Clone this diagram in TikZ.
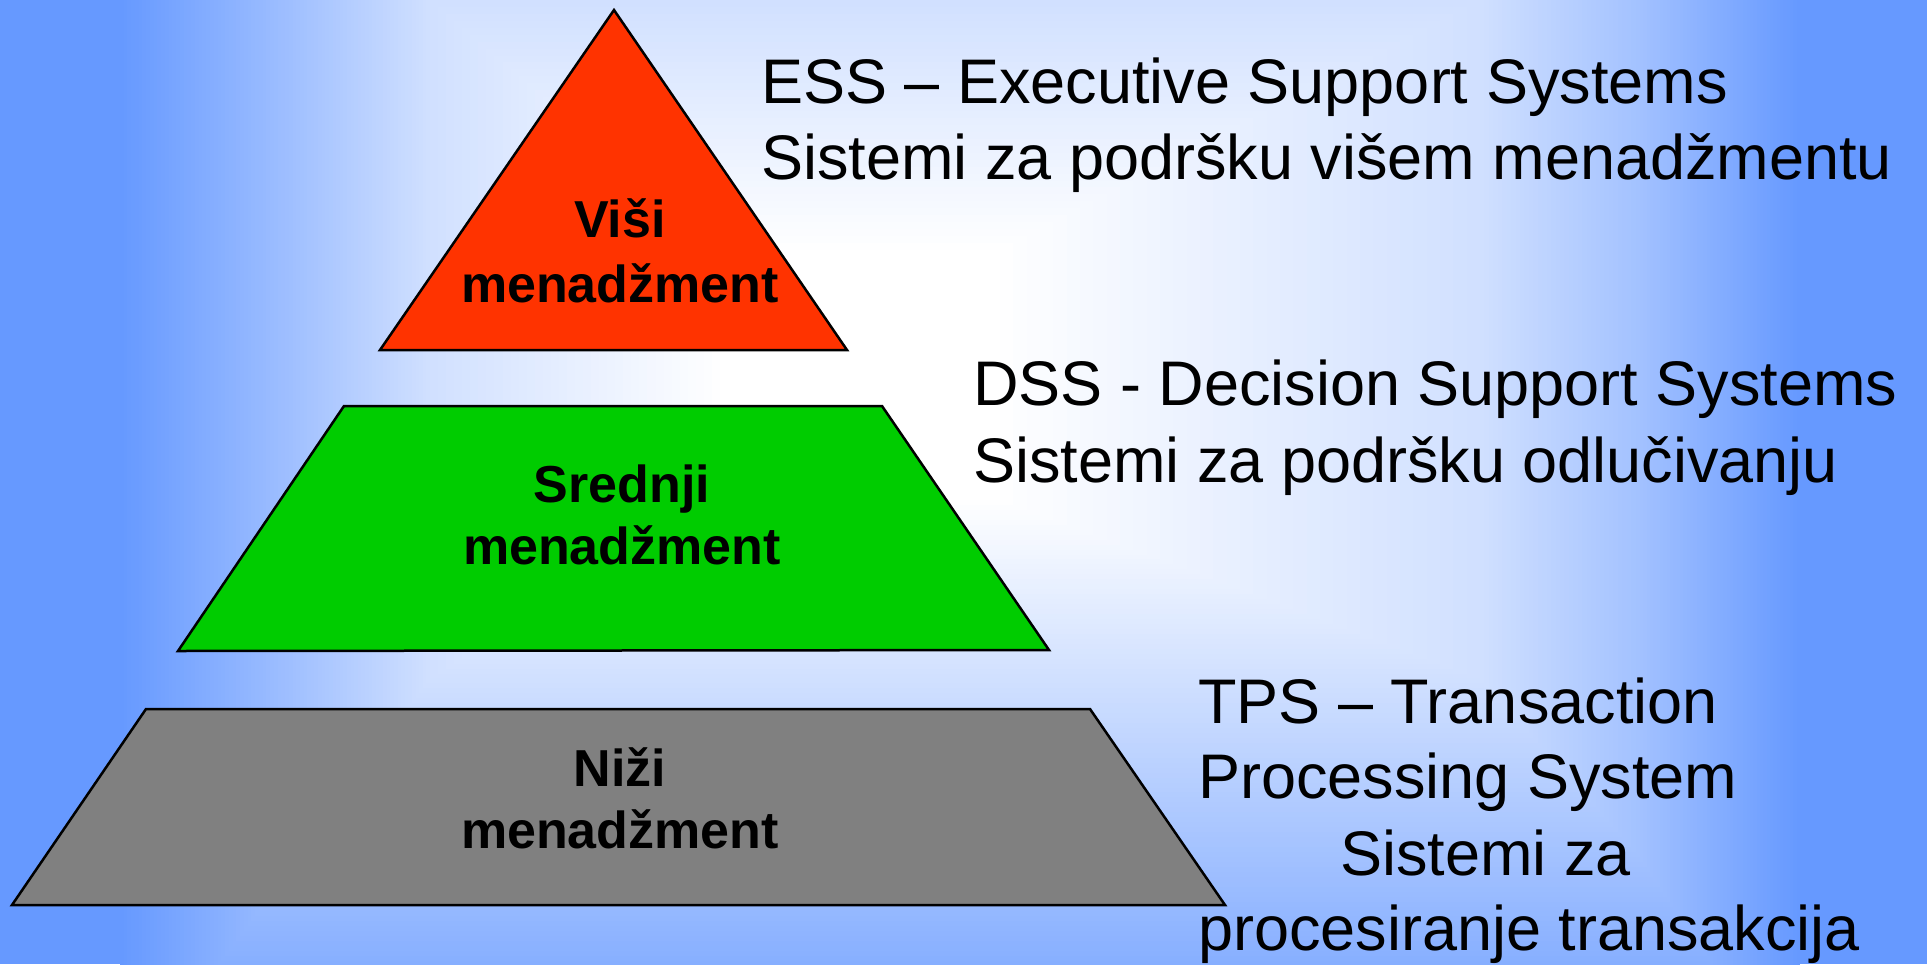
\documentclass[tikz,border=0pt]{standalone}
\usepackage{fontspec}
\setmainfont{Liberation Sans}
\definecolor{bgblue}{HTML}{6699FF}
\definecolor{topred}{HTML}{FF3300}
\definecolor{midgreen}{HTML}{00CC00}
\definecolor{lowgray}{HTML}{808080}
\begin{document}
\begin{tikzpicture}[x=1pt,y=-1pt,
  layer/.style={draw=black, line width=2.5pt, line join=miter},
  lbl/.style={font=\fontsize{52}{62}\selectfont\bfseries, anchor=base, inner sep=0pt},
  desc/.style={font=\fontsize{63}{76}\selectfont, anchor=base west, inner sep=0pt}]
\useasboundingbox (0,0) rectangle (1927,964);

% background: rectangular gradient, blue at the rim, white in the middle
\begin{scope}
  \clip (0,0) rectangle (1927,964);
  \fill[bgblue] (0,0) rectangle (1927,964);
  \foreach \k in {0,...,120}{
    \pgfmathsetmacro{\t}{1-\k/120}
    \pgfmathsetmacro{\xl}{\t>=0.6 ? 300-(\t-0.6)/0.4*180 : (\t>=0.3 ? 430-(\t-0.3)/0.3*130 : 720-\t/0.3*290)}
    \pgfmathsetmacro{\xr}{\t>=0.6 ? 1640+(\t-0.6)/0.4*160 : (\t>=0.3 ? 1480+(\t-0.3)/0.3*160 : 1000+\t/0.3*480)}
    \pgfmathsetmacro{\yt}{\t>=0.3 ? -10 : 250-\t/0.3*250}
    \pgfmathsetmacro{\yb}{\t>=0.78 ? 1100 : 500+\t/0.78*464}
    \pgfmathsetmacro{\tp}{100*\t}
    \fill[bgblue!\tp!white] (\xl,\yt) rectangle (\xr,\yb);
  }
\end{scope}

% pyramid layers
\draw[layer, fill=topred] (614,10) -- (847,350) -- (380,350) -- cycle;
\draw[layer, fill=midgreen] (344,406) -- (882,406) -- (1049,650) -- (178,651) -- cycle;
\draw[layer, fill=lowgray] (146,709) -- (1090,709) -- (1225,905) -- (12,905) -- cycle;

% layer labels
\node[lbl] (visi) at (620,237) {Viši};
\node[lbl] (visim) at (620,302) {menadžment};
\node[lbl] (srednji) at (622,502) {Srednji};
\node[lbl] (srednjim) at (622,564) {menadžment};
\node[lbl] (nizi) at (620,786) {Niži};
\node[lbl] (nizim) at (620,848) {menadžment};

% system descriptions
\node[desc] (ess1) at (761,103) {ESS – Executive Support Systems};
\node[desc] (ess2) at (761,179) {Sistemi za podršku višem menadžmentu};
\node[desc] (dss1) at (973,405) {DSS - Decision Support Systems};
\node[desc] (dss2) at (973,482) {Sistemi za podršku odlučivanju};
\node[desc] (tps1) at (1198,723) {TPS – Transaction};
\node[desc] (tps2) at (1198,798) {Processing System};
\node[desc] (tps3) at (1340,875) {Sistemi za};
\node[desc] (tps4) at (1198,950) {procesiranje transakcija};
\end{tikzpicture}
\end{document}
